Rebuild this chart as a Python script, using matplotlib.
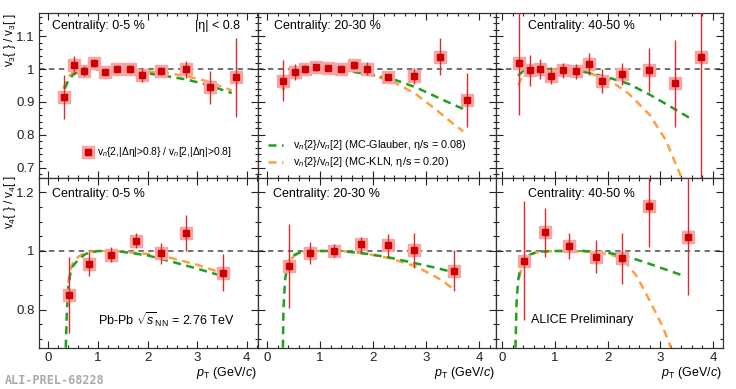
import matplotlib
matplotlib.use("Agg")
import matplotlib.pyplot as plt
from matplotlib.ticker import MultipleLocator, FuncFormatter

plt.rcParams["font.family"] = ["Liberation Sans", "DejaVu Sans"]
plt.rcParams["mathtext.fontset"] = "custom"
plt.rcParams["mathtext.rm"] = "Liberation Sans"
plt.rcParams["mathtext.it"] = "Liberation Sans:italic"
plt.rcParams["mathtext.bf"] = "Liberation Sans:bold"

# ---- data ----
pt_v3 = [0.31, 0.52, 0.72, 0.92, 1.15, 1.39, 1.65, 1.89, 2.28, 2.78, 3.27, 3.78]
pt_v4 = [0.41, 0.81, 1.27, 1.77, 2.28, 2.78, 3.53]

centralities = ["0-5 %", "20-30 %", "40-50 %"]

v3_ratio = [
    [0.915, 1.013, 0.995, 1.018, 0.991, 1.000, 1.001, 0.982, 0.993, 0.999, 0.945, 0.975],
    [0.965, 0.992, 1.000, 1.005, 1.002, 1.000, 1.012, 1.001, 0.976, 0.980, 1.038, 0.905],
    [1.019, 0.996, 1.000, 0.980, 0.996, 0.993, 1.015, 0.963, 0.985, 0.997, 0.957, 1.037],
]
v3_err = [
    [0.066, 0.027, 0.015, 0.012, 0.008, 0.010, 0.013, 0.020, 0.012, 0.025, 0.050, 0.120],
    [0.063, 0.024, 0.012, 0.012, 0.008, 0.010, 0.013, 0.020, 0.010, 0.024, 0.056, 0.082],
    [0.160, 0.047, 0.030, 0.025, 0.024, 0.024, 0.033, 0.037, 0.034, 0.068, 0.133, 0.400],
]
v4_ratio = [
    [0.849, 0.955, 0.987, 1.035, 0.992, 1.061, 0.926],
    [0.949, 0.992, 1.001, 1.023, 1.021, 1.003, 0.933],
    [0.967, 1.064, 1.017, 0.981, 0.975, 1.154, 1.049],
]
v4_err = [
    [0.130, 0.040, 0.025, 0.025, 0.036, 0.061, 0.064],
    [0.142, 0.037, 0.022, 0.025, 0.037, 0.060, 0.070],
    [0.203, 0.083, 0.046, 0.056, 0.087, 0.140, 0.200],
]

# model curves (MC-Glauber eta/s=0.08 green, MC-KLN eta/s=0.20 orange)
glauber_v3_x = [
    [0.33, 0.4, 0.5, 0.65, 0.9, 1.2, 1.6, 2.0, 2.4, 2.8, 3.2, 3.6, 3.7],
    [0.3, 0.38, 0.5, 0.7, 1.0, 1.4, 1.7, 2.0, 2.4, 2.8, 3.2, 3.5, 3.75],
    [0.3, 0.4, 0.55, 0.7, 1.0, 1.3, 1.6, 2.0, 2.4, 2.8, 3.2, 3.6],
]
glauber_v3_y = [
    [0.94, 0.965, 0.983, 0.995, 1.0, 0.999, 0.994, 0.987, 0.978, 0.968, 0.952, 0.932, 0.927],
    [0.94, 0.975, 0.99, 0.998, 1.0, 0.997, 0.99, 0.982, 0.968, 0.945, 0.915, 0.893, 0.875],
    [0.98, 0.995, 1.0, 1.0, 1.0, 0.998, 0.99, 0.975, 0.955, 0.922, 0.885, 0.847],
]
kln_v3_x = [
    [0.3, 0.4, 0.5, 0.65, 0.9, 1.2, 1.6, 2.0, 2.4, 2.8, 3.2, 3.7],
    [0.3, 0.38, 0.5, 0.7, 1.0, 1.4, 1.7, 2.0, 2.4, 2.8, 3.2, 3.5, 3.7],
    [0.3, 0.4, 0.55, 0.7, 1.0, 1.3, 1.6, 2.0, 2.4, 2.8, 3.1, 3.4],
]
kln_v3_y = [
    [0.94, 0.975, 0.99, 0.998, 1.0, 1.0, 0.997, 0.993, 0.988, 0.978, 0.963, 0.935],
    [0.935, 0.97, 0.99, 0.998, 1.0, 0.997, 0.99, 0.98, 0.96, 0.925, 0.875, 0.835, 0.81],
    [0.95, 0.985, 0.998, 1.0, 1.0, 0.998, 0.99, 0.97, 0.925, 0.86, 0.785, 0.67],
]
glauber_v4_x = [
    [0.35, 0.37, 0.4, 0.45, 0.5, 0.6, 0.75, 1.0, 1.5, 2.0, 2.5, 3.0, 3.5],
    [0.3, 0.31, 0.34, 0.37, 0.43, 0.5, 0.62, 0.9, 1.4, 1.9, 2.3, 2.8, 3.2, 3.5],
    [0.25, 0.27, 0.3, 0.35, 0.45, 0.55, 0.7, 1.0, 1.5, 1.85, 2.3, 2.7, 3.05, 3.4],
]
glauber_v4_y = [
    [0.67, 0.78, 0.88, 0.93, 0.95, 0.97, 0.99, 1.0, 0.997, 0.985, 0.963, 0.94, 0.915],
    [0.67, 0.8, 0.9, 0.935, 0.97, 0.985, 0.995, 1.0, 1.0, 0.99, 0.978, 0.958, 0.942, 0.928],
    [0.67, 0.82, 0.9, 0.945, 0.975, 0.99, 0.998, 1.0, 1.0, 0.998, 0.985, 0.962, 0.94, 0.918],
]
kln_v4_x = [
    [0.4, 0.45, 0.5, 0.6, 0.75, 1.0, 1.5, 2.0, 2.5, 3.0, 3.5],
    [0.37, 0.43, 0.5, 0.62, 0.9, 1.4, 1.9, 2.3, 2.8, 3.1, 3.3, 3.5],
    [0.32, 0.39, 0.5, 0.64, 1.0, 1.5, 1.85, 2.1, 2.3, 2.55, 2.8, 3.05, 3.2],
]
kln_v4_y = [
    [0.89, 0.94, 0.96, 0.98, 0.995, 1.0, 0.998, 0.99, 0.975, 0.953, 0.925],
    [0.93, 0.965, 0.982, 0.995, 1.0, 1.0, 0.99, 0.976, 0.948, 0.92, 0.9, 0.872],
    [0.91, 0.96, 0.985, 0.995, 1.0, 0.998, 0.995, 0.985, 0.97, 0.915, 0.83, 0.74, 0.67],
]

W, H = 736, 389
fig = plt.figure(figsize=(W / 100, H / 100), dpi=100)

# panel edges in pixels
cols = [(39, 258), (258, 496), (496, 723)]
xlims = [(-0.19, 4.23), (-0.17, 4.32), (-0.12, 4.19)]
rows = [(13, 178), (178, 348)]
ylims = [(0.668, 1.171), (0.669, 1.249)]

GREEN = "#1fa01f"
ORANGE = "#ffa040"
RED = "#cc0000"
PINK = "#f6a4a4"

root_fmt = FuncFormatter(lambda v, p: "%g" % round(v, 3))


def make_ax(r, c):
    x0, x1 = cols[c]
    y0, y1 = rows[r]
    ax = fig.add_axes([x0 / W, 1 - y1 / H, (x1 - x0) / W, (y1 - y0) / H])
    ax.set_xlim(*xlims[c])
    ax.set_ylim(*ylims[r])
    ax.xaxis.set_major_locator(MultipleLocator(1))
    ax.xaxis.set_minor_locator(MultipleLocator(0.2))
    if r == 0:
        ax.yaxis.set_major_locator(MultipleLocator(0.1))
        ax.yaxis.set_minor_locator(MultipleLocator(0.02))
    else:
        ax.yaxis.set_major_locator(MultipleLocator(0.2))
        ax.yaxis.set_minor_locator(MultipleLocator(0.05))
    ax.xaxis.set_major_formatter(root_fmt)
    ax.yaxis.set_major_formatter(root_fmt)
    ax.tick_params(which="both", direction="in", top=True, right=True,
                   labelsize=9.5, colors="#222222", pad=3)
    ax.tick_params(which="major", length=5, width=0.8)
    ax.tick_params(which="minor", length=2.5, width=0.8)
    if c > 0:
        ax.tick_params(labelleft=False)
    if r == 0:
        ax.tick_params(labelbottom=False)
    for s in ax.spines.values():
        s.set_linewidth(0.9)
        s.set_color("#333333")
    ax.axhline(1.0, color="#666666", lw=1.3, ls=(0, (3, 2.5)), zorder=1)
    return ax


def draw_points(ax, x, y, e):
    ax.plot(x, y, ls="none", marker="s", ms=8, color=PINK, mec=PINK, zorder=3)
    ax.errorbar(x, y, yerr=e, fmt="none", ecolor="#dd2a2a", elinewidth=1.0, zorder=4)
    ax.plot(x, y, ls="none", marker="s", ms=5, color=RED, mec=RED, zorder=5)


dash = (0, (3.2, 2.2))
for c in range(3):
    ax = make_ax(0, c)
    ax.plot(kln_v3_x[c], kln_v3_y[c], color=ORANGE, lw=1.8, ls=dash, zorder=2)
    ax.plot(glauber_v3_x[c], glauber_v3_y[c], color=GREEN, lw=1.8, ls=dash, zorder=2)
    draw_points(ax, pt_v3, v3_ratio[c], v3_err[c])
    ax.text([0.06, 0.067, 0.139][c], 0.92, "Centrality: " + centralities[c],
            transform=ax.transAxes, fontsize=9, va="center", ha="left")
    if c == 0:
        ax.text(0.918, 0.92, "|η| < 0.8", transform=ax.transAxes, fontsize=9,
                va="center", ha="right")
        ax.plot([0.224], [0.158], transform=ax.transAxes, marker="s", ms=9,
                color=PINK, ls="none", clip_on=False)
        ax.plot([0.224], [0.158], transform=ax.transAxes, marker="s", ms=5,
                color=RED, ls="none", clip_on=False)
        ax.text(0.265, 0.158, r"v$_n${2,|Δη|>0.8} / v$_n$[2,|Δη|>0.8]",
                transform=ax.transAxes, fontsize=7.4, va="center", ha="left")
    if c == 1:
        ax.plot([0.042, 0.105], [0.2, 0.2], transform=ax.transAxes, color=GREEN,
                lw=1.8, ls=dash)
        ax.plot([0.042, 0.105], [0.097, 0.097], transform=ax.transAxes, color=ORANGE,
                lw=1.8, ls=dash)
        ax.text(0.146, 0.2, r"v$_n${2}/v$_n$[2] (MC-Glauber, η/s = 0.08)",
                transform=ax.transAxes, fontsize=7.8, va="center", ha="left")
        ax.text(0.146, 0.097, r"v$_n${2}/v$_n$[2] (MC-KLN, η/s = 0.20)",
                transform=ax.transAxes, fontsize=7.8, va="center", ha="left")

for c in range(3):
    ax = make_ax(1, c)
    ax.plot(kln_v4_x[c], kln_v4_y[c], color=ORANGE, lw=1.8, ls=dash, zorder=2)
    ax.plot(glauber_v4_x[c], glauber_v4_y[c], color=GREEN, lw=1.8, ls=dash, zorder=2)
    draw_points(ax, pt_v4, v4_ratio[c], v4_err[c])
    ax.text([0.06, 0.062, 0.139][c], 0.906, "Centrality: " + centralities[c],
            transform=ax.transAxes, fontsize=9, va="center", ha="left")
    if c == 0:
        ax.text(0.27, 0.165, r"Pb-Pb $\sqrt{s}_{\mathrm{NN}}$ = 2.76 TeV",
                transform=ax.transAxes, fontsize=9, va="center", ha="left")
    if c == 2:
        ax.text(0.154, 0.165, "ALICE Preliminary", transform=ax.transAxes,
                fontsize=9, va="center", ha="left")
    fig.text(cols[c][1] / W - 0.002, 1 - 373 / H, r"$p_\mathrm{T}$ (GeV/$c$)",
             fontsize=9, ha="right", va="center")

fig.text(10 / W, 1 - 13 / H, r"v$_3${ } / v$_3$[ ]", rotation=90,
         fontsize=8.5, ha="center", va="top")
fig.text(10 / W, 1 - 175 / H, r"v$_4${ } / v$_4$[ ]", rotation=90,
         fontsize=8.5, ha="center", va="top")
fig.text(5 / W, 1 - 380 / H, "ALI-PREL-68228", fontsize=8.5, color="#aaaaaa",
         family="DejaVu Sans Mono", weight="bold", ha="left", va="center")

fig.savefig("out.png", dpi=100)
